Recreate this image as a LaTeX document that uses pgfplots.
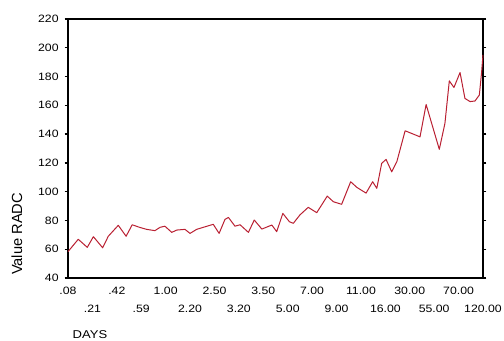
\documentclass[border=0pt]{standalone}
\usepackage{pgfplots}
\pgfplotsset{compat=1.18}
\usepackage{fontspec}
\setmainfont[FakeStretch=1.15]{Liberation Sans}
\newfontfamily\ylfont{Liberation Sans}
\definecolor{linered}{RGB}{185,32,50}
\begin{document}
\begin{tikzpicture}
\path[use as bounding box] (-51pt,-47.25pt) rectangle (327pt,208.5pt);
\begin{axis}[
  at={(0,0)}, anchor=south west,
  scale only axis,
  width=311.25pt, height=194.25pt,
  xmin=0, xmax=17, ymin=40, ymax=220,
  ytick={40,60,...,220},
  xtick={0,2,...,16},
  xticklabels={.08,.42,1.00,2.50,3.50,7.00,11.00,30.00,70.00},
  extra x ticks={1,3,...,17},
  extra x tick labels={.21,.59,2.20,3.20,5.00,9.00,16.00,55.00,120.00},
  extra x tick style={xticklabel style={yshift=-13.5pt}},
  xtick style={draw=none},
  ytick style={black, line width=1pt},
  tick align=outside,
  major tick length=2.5pt,
  axis line style={black, line width=0.9pt},
  /pgf/number format/assume math mode=true,
  tick label style={font=\fontsize{8}{9.5}\selectfont},
  xticklabel style={yshift=-0.5pt},
  yticklabel style={xshift=-1pt},
  xlabel={DAYS},
  xlabel style={at={(axis description cs:0,-0.22)}, anchor=west, font=\fontsize{8.5}{10}\selectfont},
  ylabel={\ylfont Value RADC},
  ylabel style={at={(axis description cs:-0.123,0.17)}, anchor=center, font=\fontsize{11}{13}\selectfont},
  clip=false,
]
\addplot[linered, line width=0.75pt, line join=round] coordinates {
(0.00,58.3) (0.42,66.9) (0.79,61.3) (1.04,68.7) (1.42,61.0) (1.65,69.0)
(2.06,76.6) (2.38,69.0) (2.63,77.0) (2.95,75.1) (3.22,73.8) (3.56,72.9)
(3.77,75.2) (3.97,76.0) (4.25,71.7) (4.45,73.3) (4.79,73.8) (5.00,71.0)
(5.27,73.8) (5.54,75.2) (5.95,77.3) (6.19,71.0) (6.43,80.7) (6.57,82.1)
(6.84,76.0) (7.05,77.0) (7.39,71.7) (7.63,80.3) (7.94,74.0) (8.35,76.8)
(8.55,72.2) (8.80,84.9) (9.07,79.1) (9.23,78.0) (9.50,83.8) (9.84,89.1)
(10.19,85.4) (10.62,96.9) (10.87,93.0) (11.21,91.2) (11.58,106.9) (11.83,103.0)
(12.21,99.0) (12.48,106.9) (12.65,102.3) (12.85,119.7) (13.03,122.4) (13.26,113.8)
(13.47,120.8) (13.81,142.3) (14.42,138.1) (14.67,160.6) (15.21,129.4) (15.44,147.4)
(15.62,177.0) (15.81,172.4) (16.06,182.8) (16.26,164.8) (16.47,162.6) (16.67,163.0)
(16.85,167.1) (16.94,182.5) (17.00,195.0)
};
\end{axis}
\end{tikzpicture}
\end{document}
